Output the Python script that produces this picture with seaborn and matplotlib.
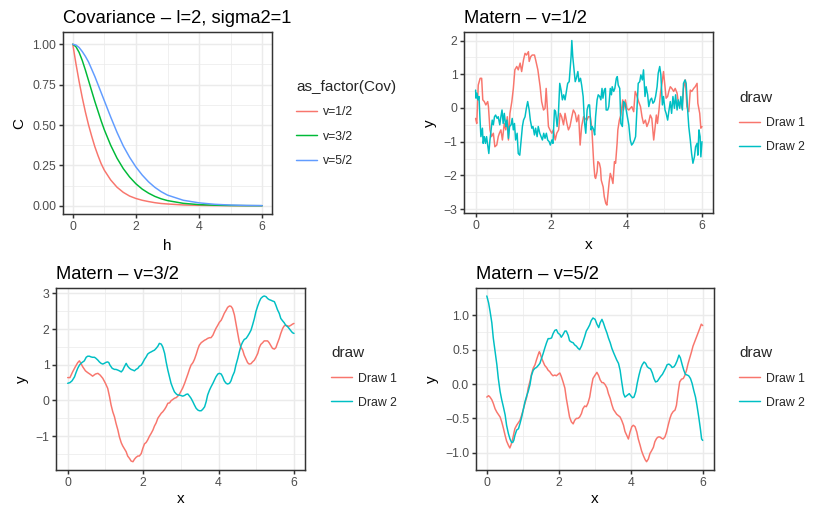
import matplotlib
matplotlib.use("Agg")
import matplotlib.pyplot as plt
import pandas as pd
import seaborn as sns

# ---- Covariance functions (l=2, sigma2=1) ----
cov_h = [0, 0.1, 0.2, 0.3, 0.4, 0.5, 0.6, 0.7, 0.8, 0.9, 1.0, 1.2, 1.4, 1.6, 1.8,
         2.0, 2.2, 2.4, 2.6, 2.8, 3.0, 3.5, 4.0, 4.5, 5.0, 5.5, 6.0]
cov_v12 = [1.0, 0.88, 0.77, 0.67, 0.58, 0.50, 0.43, 0.365, 0.31, 0.26, 0.22, 0.16, 0.115,
           0.083, 0.06, 0.045, 0.034, 0.026, 0.019, 0.014, 0.011, 0.005, 0.0025, 0.0012,
           0.0006, 0.0003, 0.0001]
cov_v32 = [1.0, 0.985, 0.95, 0.90, 0.84, 0.775, 0.71, 0.645, 0.585, 0.525, 0.47, 0.375,
           0.295, 0.23, 0.178, 0.136, 0.103, 0.078, 0.058, 0.043, 0.032, 0.015, 0.007,
           0.0033, 0.0015, 0.0007, 0.0003]
cov_v52 = [1.0, 0.995, 0.98, 0.955, 0.925, 0.89, 0.845, 0.80, 0.75, 0.70, 0.65, 0.55,
           0.455, 0.37, 0.30, 0.24, 0.19, 0.148, 0.114, 0.087, 0.066, 0.034, 0.018, 0.009,
           0.0045, 0.002, 0.001]
cov_labels = ["v=1/2", "v=3/2", "v=5/2"]

draw_labels = ["Draw 1", "Draw 2"]

# ---- Matern v=1/2 draws: (x, y) ----
m12_draw1 = [(0.00, -0.31), (0.03, -0.46), (0.07, 0.68), (0.12, 0.88), (0.16, 0.88), (0.19, 0.24),
             (0.23, 0.19), (0.27, 0.09), (0.32, 0.19), (0.34, 0.04), (0.38, -0.65), (0.42, -0.85),
             (0.47, -0.75), (0.51, -1.15), (0.56, -1.10), (0.60, -0.85), (0.63, -0.75), (0.67, -0.65),
             (0.71, -0.95), (0.76, -0.46), (0.80, -0.65), (0.84, -0.26), (0.87, -0.95), (0.91, -0.16),
             (0.96, 0.19), (1.00, 0.58), (1.04, 1.13), (1.09, 1.23), (1.13, 1.13), (1.18, 1.33),
             (1.22, 1.08), (1.27, 1.43), (1.31, 1.62), (1.35, 1.57), (1.40, 1.67), (1.42, 1.38),
             (1.46, 1.52), (1.50, 1.57), (1.56, 1.57), (1.59, 1.43), (1.65, 1.13), (1.71, 0.63),
             (1.75, 0.19), (1.80, -0.06), (1.84, -0.01), (1.87, 0.58), (1.90, 0.04), (1.93, -0.55),
             (1.97, -0.65), (2.02, -0.75), (2.06, -0.65), (2.11, -0.95), (2.15, -0.75), (2.20, -0.65),
             (2.24, -0.16), (2.28, -0.26), (2.33, -0.50), (2.37, -0.16), (2.42, -0.46), (2.46, -0.65),
             (2.50, -0.55), (2.55, -0.26), (2.59, -0.06), (2.64, -0.16), (2.68, -0.41), (2.73, -0.21),
             (2.77, -1.10), (2.81, -0.55), (2.86, -0.26), (2.90, -0.31), (2.95, -0.36), (2.99, -0.26),
             (3.04, -0.26), (3.08, -0.60), (3.13, -1.64), (3.16, -2.04), (3.18, -2.09), (3.22, -1.89),
             (3.24, -1.59), (3.28, -1.64), (3.31, -1.79), (3.33, -2.14), (3.38, -2.34), (3.41, -2.63),
             (3.45, -2.83), (3.48, -2.88), (3.51, -2.53), (3.54, -2.19), (3.57, -1.94), (3.61, -2.09),
             (3.64, -2.24), (3.68, -1.59), (3.71, -1.64), (3.75, -1.05), (3.77, -0.65), (3.81, -0.36),
             (3.85, -0.21), (3.90, 0.24), (3.92, -0.06), (3.97, 0.24), (4.01, -0.01), (4.06, -0.06),
             (4.10, -0.01), (4.14, 0.04), (4.19, -0.11), (4.23, 0.49), (4.28, 0.34), (4.32, 0.19),
             (4.37, 0.04), (4.41, -0.26), (4.45, -0.46), (4.50, -0.36), (4.54, -0.55), (4.59, -0.41),
             (4.63, -0.21), (4.67, -0.31), (4.72, -0.95), (4.75, -0.65), (4.79, -0.21), (4.82, -0.46),
             (4.86, -0.06), (4.90, 0.44), (4.94, 0.73), (4.98, 1.08), (5.02, 0.63), (5.05, 0.29),
             (5.09, 0.34), (5.12, 0.49), (5.16, 0.63), (5.20, 0.58), (5.25, 0.49), (5.29, 0.58),
             (5.34, 0.44), (5.38, 0.09), (5.43, 0.19), (5.47, -0.01), (5.51, 0.58), (5.56, 0.83),
             (5.60, 0.04), (5.65, -0.11), (5.69, 0.53), (5.73, 0.49), (5.78, 0.58), (5.82, 0.63),
             (5.87, 0.73), (5.89, 0.14), (5.94, -0.16), (5.97, -0.60), (6.00, -0.55)]
m12_draw2 = [(0.00, 0.53), (0.01, 0.29), (0.035, 0.44), (0.06, 0.24), (0.09, 0.34), (0.115, -0.31),
             (0.14, -0.85), (0.18, -0.60), (0.20, -1.05), (0.23, -0.85), (0.26, -1.05), (0.29, -0.85),
             (0.32, -1.10), (0.35, -1.35), (0.38, -0.95), (0.41, -0.65), (0.44, -0.36), (0.47, -0.50),
             (0.50, -0.26), (0.53, -0.21), (0.57, -0.31), (0.60, -0.26), (0.64, -0.50), (0.67, -0.26),
             (0.70, -0.06), (0.73, -0.46), (0.76, -0.16), (0.80, -0.55), (0.83, -0.36), (0.87, -0.90),
             (0.90, -0.55), (0.94, -0.50), (0.97, -0.31), (1.00, -0.65), (1.03, -0.46), (1.06, -0.95),
             (1.10, -0.75), (1.13, -1.35), (1.17, -1.40), (1.20, -1.05), (1.24, -0.55), (1.27, -0.36),
             (1.31, -0.26), (1.345, -0.01), (1.38, 0.19), (1.42, -0.06), (1.45, -0.36), (1.49, -0.60),
             (1.52, -0.55), (1.56, -0.80), (1.59, -0.60), (1.63, -0.85), (1.66, -0.55), (1.70, -0.75),
             (1.735, -0.85), (1.77, -0.95), (1.805, -0.75), (1.84, -0.90), (1.875, -0.75), (1.91, -0.95),
             (1.95, -1.00), (1.98, -1.10), (2.02, -0.95), (2.05, -1.05), (2.09, -0.06), (2.12, -0.11),
             (2.16, -0.55), (2.195, -0.16), (2.23, 0.73), (2.265, 0.53), (2.30, 0.24), (2.335, 0.39),
             (2.37, 0.24), (2.41, 0.53), (2.44, 0.73), (2.48, 0.78), (2.51, 1.23), (2.53, 1.52),
             (2.55, 2.00), (2.575, 1.52), (2.60, 1.23), (2.64, 0.78), (2.67, 0.88), (2.71, 1.08),
             (2.74, 0.78), (2.78, 0.88), (2.81, 0.68), (2.85, 0.34), (2.885, -0.41), (2.92, -0.75),
             (2.955, -0.06), (2.99, 0.09), (3.02, 0.09), (3.06, -0.65), (3.09, -0.55), (3.13, -0.65),
             (3.155, -0.80), (3.18, -0.26), (3.22, 0.24), (3.25, 0.39), (3.29, 0.34), (3.32, 0.24),
             (3.35, 0.58), (3.375, 0.29), (3.41, 0.53), (3.44, 0.58), (3.46, -0.06), (3.50, -0.06),
             (3.53, 0.04), (3.57, 0.58), (3.60, 0.39), (3.62, 0.63), (3.66, 0.49), (3.69, 0.58),
             (3.73, 0.88), (3.755, 0.93), (3.78, 0.68), (3.82, 0.58), (3.85, -0.46), (3.89, -0.55),
             (3.92, 0.19), (3.96, 0.14), (3.99, -0.06), (4.03, -0.31), (4.06, -0.50), (4.10, -0.95),
             (4.135, -1.10), (4.17, -1.05), (4.21, -0.95), (4.24, -0.85), (4.28, 0.04), (4.31, 0.73),
             (4.35, 0.78), (4.38, 0.98), (4.42, 0.83), (4.45, 1.13), (4.49, 0.34), (4.52, 0.63),
             (4.56, 0.39), (4.59, 0.04), (4.63, 0.24), (4.665, 0.29), (4.70, 0.14), (4.735, 0.19),
             (4.77, 0.34), (4.81, 0.63), (4.84, 1.03), (4.88, 1.23), (4.91, 0.98), (4.95, 0.09),
             (4.98, 0.34), (5.02, -0.06), (5.05, -0.16), (5.09, -0.36), (5.12, -0.11), (5.16, 0.19),
             (5.195, -0.16), (5.23, 0.34), (5.27, -0.01), (5.30, 0.39), (5.34, -0.06), (5.37, 0.24),
             (5.41, -0.01), (5.44, 0.34), (5.48, -0.06), (5.51, 0.73), (5.55, 0.83), (5.58, 0.73),
             (5.62, -0.06), (5.65, -0.55), (5.69, -0.95), (5.725, -1.35), (5.76, -1.64), (5.80, -1.45),
             (5.83, -1.15), (5.87, -1.05), (5.89, -1.40), (5.92, -0.65), (5.95, -0.85), (5.97, -1.45),
             (6.00, -1.00)]

# ---- Matern v=3/2 draws: (x, y) ----
m32_draw1 = [(0.00, 0.64), (0.06, 0.64), (0.13, 0.80), (0.20, 0.94), (0.265, 1.06), (0.31, 1.11),
             (0.35, 1.04), (0.40, 0.94), (0.47, 0.83), (0.53, 0.78), (0.60, 0.73), (0.66, 0.68),
             (0.735, 0.74), (0.80, 0.76), (0.86, 0.71), (0.93, 0.62), (1.00, 0.48), (1.06, 0.34),
             (1.11, 0.10), (1.15, -0.13), (1.195, -0.32), (1.24, -0.46), (1.28, -0.64), (1.33, -0.83),
             (1.37, -1.02), (1.42, -1.19), (1.46, -1.28), (1.50, -1.35), (1.55, -1.44), (1.59, -1.56),
             (1.64, -1.63), (1.68, -1.70), (1.73, -1.72), (1.77, -1.65), (1.81, -1.60), (1.86, -1.56),
             (1.90, -1.56), (1.95, -1.49), (1.99, -1.35), (2.035, -1.22), (2.08, -1.18), (2.12, -1.11),
             (2.17, -1.00), (2.21, -0.93), (2.26, -0.83), (2.30, -0.72), (2.345, -0.63), (2.39, -0.50),
             (2.43, -0.44), (2.48, -0.36), (2.52, -0.32), (2.57, -0.25), (2.61, -0.18), (2.655, -0.08),
             (2.70, -0.07), (2.74, -0.01), (2.79, 0.03), (2.83, 0.06), (2.88, 0.08), (2.92, 0.12),
             (2.965, 0.18), (3.05, 0.35), (3.10, 0.48), (3.14, 0.60), (3.19, 0.75), (3.23, 0.88),
             (3.27, 0.99), (3.32, 1.06), (3.36, 1.15), (3.41, 1.30), (3.45, 1.44), (3.49, 1.55),
             (3.54, 1.62), (3.58, 1.65), (3.63, 1.69), (3.67, 1.71), (3.71, 1.74), (3.76, 1.76),
             (3.80, 1.76), (3.85, 1.83), (3.89, 1.93), (3.93, 2.02), (3.98, 2.11), (4.02, 2.19),
             (4.07, 2.25), (4.11, 2.34), (4.15, 2.44), (4.20, 2.53), (4.24, 2.61), (4.29, 2.65),
             (4.33, 2.64), (4.37, 2.58), (4.42, 2.40), (4.46, 2.16), (4.51, 1.87), (4.55, 1.64),
             (4.59, 1.50), (4.64, 1.41), (4.68, 1.27), (4.73, 1.15), (4.77, 1.06), (4.81, 1.02),
             (4.86, 1.03), (4.90, 1.08), (4.95, 1.13), (4.99, 1.21), (5.04, 1.32), (5.08, 1.48),
             (5.12, 1.57), (5.17, 1.62), (5.21, 1.67), (5.26, 1.67), (5.30, 1.67), (5.34, 1.62),
             (5.39, 1.53), (5.43, 1.46), (5.48, 1.44), (5.52, 1.48), (5.56, 1.60), (5.61, 1.74),
             (5.65, 1.88), (5.70, 2.02), (5.74, 2.09), (5.78, 2.11), (5.83, 2.09), (5.87, 2.08),
             (5.92, 2.11), (5.96, 2.14), (6.00, 2.16)]
m32_draw2 = [(0.00, 0.48), (0.06, 0.50), (0.115, 0.55), (0.18, 0.66), (0.22, 0.78), (0.265, 0.90),
             (0.31, 0.99), (0.35, 1.04), (0.40, 1.08), (0.44, 1.11), (0.49, 1.21), (0.53, 1.24),
             (0.575, 1.24), (0.62, 1.22), (0.66, 1.21), (0.71, 1.21), (0.75, 1.18), (0.80, 1.13),
             (0.84, 1.08), (0.885, 1.04), (0.93, 1.02), (0.97, 1.04), (1.02, 1.07), (1.06, 1.08),
             (1.09, 1.06), (1.12, 0.99), (1.18, 0.90), (1.24, 0.87), (1.28, 0.87), (1.33, 0.85),
             (1.37, 0.83), (1.42, 0.80), (1.46, 0.85), (1.50, 0.94), (1.55, 1.04), (1.59, 0.96),
             (1.64, 0.90), (1.68, 0.87), (1.73, 0.85), (1.77, 0.83), (1.81, 0.87), (1.86, 0.90),
             (1.90, 0.96), (1.95, 0.99), (1.99, 1.06), (2.035, 1.15), (2.08, 1.22), (2.12, 1.30),
             (2.17, 1.34), (2.21, 1.36), (2.26, 1.39), (2.30, 1.41), (2.345, 1.46), (2.39, 1.52),
             (2.43, 1.60), (2.48, 1.58), (2.52, 1.50), (2.57, 1.32), (2.61, 1.08), (2.655, 0.85),
             (2.70, 0.66), (2.74, 0.48), (2.79, 0.34), (2.83, 0.24), (2.88, 0.18), (2.92, 0.15),
             (2.965, 0.15), (3.05, 0.12), (3.10, 0.14), (3.14, 0.17), (3.185, 0.18), (3.23, 0.12),
             (3.27, 0.06), (3.32, -0.04), (3.36, -0.13), (3.405, -0.22), (3.45, -0.27), (3.49, -0.29),
             (3.54, -0.29), (3.58, -0.25), (3.63, -0.18), (3.67, -0.04), (3.71, 0.15), (3.76, 0.29),
             (3.80, 0.38), (3.85, 0.48), (3.89, 0.57), (3.93, 0.66), (3.98, 0.74), (4.02, 0.76),
             (4.07, 0.74), (4.11, 0.66), (4.15, 0.55), (4.20, 0.48), (4.24, 0.46), (4.29, 0.48),
             (4.33, 0.55), (4.37, 0.68), (4.42, 0.80), (4.46, 0.99), (4.51, 1.18), (4.55, 1.36),
             (4.60, 1.55), (4.64, 1.64), (4.68, 1.71), (4.73, 1.74), (4.77, 1.80), (4.815, 1.88),
             (4.86, 1.97), (4.90, 2.11), (4.95, 2.30), (4.99, 2.49), (5.035, 2.64), (5.08, 2.77),
             (5.12, 2.86), (5.17, 2.91), (5.21, 2.93), (5.26, 2.91), (5.30, 2.86), (5.34, 2.83),
             (5.39, 2.81), (5.43, 2.79), (5.48, 2.77), (5.52, 2.67), (5.56, 2.55), (5.61, 2.44),
             (5.65, 2.30), (5.70, 2.23), (5.74, 2.18), (5.78, 2.11), (5.83, 2.07), (5.87, 2.02),
             (5.92, 1.95), (5.96, 1.90), (6.00, 1.88)]

# ---- Matern v=5/2 draws: (x, y) ----
m52_draw1 = [(0.00, -0.19), (0.05, -0.17), (0.09, -0.19), (0.14, -0.23), (0.18, -0.28), (0.23, -0.36),
             (0.28, -0.41), (0.32, -0.44), (0.37, -0.48), (0.415, -0.55), (0.46, -0.64), (0.51, -0.75),
             (0.55, -0.83), (0.60, -0.89), (0.64, -0.93), (0.67, -0.89), (0.71, -0.82), (0.75, -0.72),
             (0.78, -0.65), (0.83, -0.60), (0.88, -0.56), (0.92, -0.53), (0.97, -0.45), (1.01, -0.38),
             (1.06, -0.28), (1.11, -0.19), (1.15, -0.06), (1.20, 0.04), (1.24, 0.14), (1.29, 0.23),
             (1.34, 0.28), (1.38, 0.35), (1.43, 0.43), (1.46, 0.47), (1.48, 0.45), (1.52, 0.38),
             (1.57, 0.32), (1.61, 0.27), (1.66, 0.24), (1.705, 0.20), (1.75, 0.18), (1.80, 0.14),
             (1.84, 0.12), (1.89, 0.13), (1.935, 0.12), (1.98, 0.14), (2.03, 0.16), (2.07, 0.11),
             (2.12, 0.03), (2.17, -0.06), (2.21, -0.21), (2.26, -0.36), (2.30, -0.48), (2.35, -0.55),
             (2.40, -0.58), (2.44, -0.53), (2.49, -0.50), (2.535, -0.50), (2.58, -0.48), (2.63, -0.43),
             (2.67, -0.36), (2.72, -0.32), (2.765, -0.33), (2.81, -0.28), (2.86, -0.19), (2.90, -0.06),
             (2.95, 0.08), (3.01, 0.13), (3.06, 0.17), (3.11, 0.12), (3.15, 0.06), (3.20, 0.02),
             (3.24, 0.02), (3.29, -0.01), (3.34, -0.06), (3.38, -0.14), (3.43, -0.21), (3.475, -0.30),
             (3.52, -0.37), (3.57, -0.41), (3.61, -0.44), (3.66, -0.46), (3.705, -0.48), (3.75, -0.53),
             (3.80, -0.60), (3.84, -0.69), (3.89, -0.75), (3.935, -0.80), (3.98, -0.70), (4.03, -0.62),
             (4.07, -0.60), (4.12, -0.62), (4.17, -0.70), (4.21, -0.80), (4.26, -0.89), (4.30, -0.97),
             (4.35, -1.04), (4.40, -1.10), (4.44, -1.13), (4.49, -1.09), (4.535, -1.01), (4.58, -0.97),
             (4.63, -0.92), (4.67, -0.84), (4.72, -0.79), (4.765, -0.77), (4.81, -0.77), (4.86, -0.79),
             (4.90, -0.80), (4.95, -0.77), (4.995, -0.70), (5.04, -0.60), (5.09, -0.50), (5.13, -0.44),
             (5.18, -0.40), (5.23, -0.38), (5.27, -0.31), (5.32, -0.11), (5.36, 0.03), (5.41, 0.07),
             (5.46, 0.08), (5.50, 0.12), (5.55, 0.20), (5.59, 0.29), (5.64, 0.38), (5.69, 0.47),
             (5.73, 0.55), (5.78, 0.62), (5.825, 0.68), (5.87, 0.74), (5.92, 0.81), (5.96, 0.87),
             (6.00, 0.85)]
m52_draw2 = [(0.00, 1.28), (0.05, 1.18), (0.09, 1.06), (0.14, 0.89), (0.18, 0.67), (0.23, 0.47),
             (0.28, 0.28), (0.32, 0.08), (0.37, -0.11), (0.415, -0.23), (0.46, -0.33), (0.51, -0.45),
             (0.55, -0.60), (0.60, -0.72), (0.645, -0.80), (0.69, -0.85), (0.72, -0.85), (0.75, -0.82),
             (0.78, -0.75), (0.83, -0.67), (0.88, -0.65), (0.92, -0.58), (0.97, -0.48), (1.01, -0.38),
             (1.06, -0.26), (1.11, -0.17), (1.15, -0.11), (1.20, -0.01), (1.24, 0.12), (1.29, 0.20),
             (1.34, 0.23), (1.38, 0.24), (1.43, 0.27), (1.475, 0.30), (1.52, 0.37), (1.57, 0.45),
             (1.61, 0.52), (1.66, 0.60), (1.705, 0.66), (1.75, 0.66), (1.80, 0.67), (1.84, 0.73),
             (1.89, 0.78), (1.935, 0.79), (1.98, 0.74), (2.03, 0.72), (2.07, 0.68), (2.12, 0.72),
             (2.17, 0.77), (2.21, 0.77), (2.26, 0.71), (2.30, 0.63), (2.35, 0.61), (2.40, 0.60),
             (2.44, 0.57), (2.49, 0.55), (2.535, 0.52), (2.58, 0.50), (2.63, 0.55), (2.67, 0.61),
             (2.72, 0.69), (2.765, 0.77), (2.81, 0.81), (2.86, 0.86), (2.90, 0.92), (2.95, 0.96),
             (3.01, 0.94), (3.06, 0.87), (3.11, 0.82), (3.15, 0.89), (3.20, 0.94), (3.24, 0.89),
             (3.29, 0.81), (3.34, 0.74), (3.38, 0.67), (3.43, 0.60), (3.475, 0.52), (3.52, 0.46),
             (3.57, 0.40), (3.61, 0.35), (3.66, 0.30), (3.705, 0.20), (3.75, 0.03), (3.80, -0.14),
             (3.84, -0.19), (3.89, -0.17), (3.935, -0.15), (3.96, -0.14), (4.00, -0.17), (4.05, -0.20),
             (4.09, -0.19), (4.14, -0.11), (4.18, 0.01), (4.23, 0.13), (4.28, 0.23), (4.32, 0.28),
             (4.37, 0.32), (4.415, 0.30), (4.46, 0.25), (4.51, 0.23), (4.55, 0.22), (4.60, 0.16),
             (4.645, 0.08), (4.69, 0.03), (4.74, 0.04), (4.78, 0.07), (4.83, 0.11), (4.88, 0.14),
             (4.92, 0.18), (4.97, 0.23), (5.01, 0.28), (5.06, 0.29), (5.11, 0.27), (5.15, 0.24),
             (5.20, 0.25), (5.24, 0.28), (5.29, 0.34), (5.34, 0.42), (5.38, 0.38), (5.43, 0.28),
             (5.475, 0.20), (5.52, 0.14), (5.57, 0.13), (5.61, 0.12), (5.66, 0.08), (5.705, 0.01),
             (5.75, -0.09), (5.80, -0.19), (5.84, -0.31), (5.89, -0.48), (5.935, -0.65), (5.97, -0.80),
             (6.00, -0.82)]

# ---- styling (ggplot2 theme_bw look) ----
sns.set_theme(style="white")
plt.rcParams["font.family"] = ["Liberation Sans", "DejaVu Sans"]
plt.rcParams["axes.unicode_minus"] = True

RED, GREEN, BLUE, CYAN = "#F8766D", "#00BA38", "#619CFF", "#00BFC4"
LW = 1.07
W, H = 818, 507

fig = plt.figure(figsize=(W / 100, H / 100), dpi=100)
fig.patch.set_facecolor("white")


def panel(left, top, right, bottom):
    return fig.add_axes([left / W, 1 - bottom / H, (right - left) / W, (bottom - top) / H])


def draws_frame(d1, d2):
    rows = [(x, y, draw_labels[0]) for x, y in d1] + [(x, y, draw_labels[1]) for x, y in d2]
    return pd.DataFrame(rows, columns=["x", "y", "draw"])


def style(ax, xmaj, xmin, ymaj, ymin, ylabels, title, xlabel, ylabel, xpad=4.2):
    ax.set_facecolor("white")
    ax.set_xticks(xmaj)
    ax.set_xticks(xmin, minor=True)
    ax.set_yticks(ymaj)
    ax.set_yticks(ymin, minor=True)
    ax.set_xticklabels([str(v) for v in xmaj])
    ax.set_yticklabels(ylabels)
    ax.grid(True, which="major", color="#EBEBEB", linewidth=LW)
    ax.grid(True, which="minor", color="#EBEBEB", linewidth=LW / 2)
    ax.set_axisbelow(True)
    for s in ax.spines.values():
        s.set_visible(True)
        s.set_color("#333333")
        s.set_linewidth(LW)
    ax.tick_params(which="major", length=2.75, width=LW, color="#333333",
                   labelcolor="#4D4D4D", labelsize=8.8, pad=2.2,
                   bottom=True, left=True, top=False, right=False)
    ax.tick_params(which="minor", length=0)
    ax.set_title(title, loc="left", fontsize=13.2, color="black", pad=6.5)
    ax.set_xlabel(xlabel, fontsize=11, color="black", labelpad=xpad)
    ax.set_ylabel(ylabel, fontsize=11, color="black", labelpad=4.5)


def place_legend(ax, title, x_px, y_px):
    handles, labels = ax.get_legend_handles_labels()
    if ax.get_legend() is not None:
        ax.get_legend().remove()
    for h in handles:
        h.set_linewidth(LW)
    fig.legend(handles, labels, title=title, loc="center left",
               bbox_to_anchor=(x_px / W, 1 - y_px / H), bbox_transform=fig.transFigure,
               frameon=False, alignment="left", borderpad=0, borderaxespad=0,
               handlelength=1.75, handletextpad=0.45, labelspacing=1.0,
               fontsize=8.8, title_fontsize=11)


# Panel 1: covariance functions
ax1 = panel(63.3, 32.3, 271.7, 214)
cov_df = pd.DataFrame({
    "h": cov_h * 3,
    "C": cov_v12 + cov_v32 + cov_v52,
    "Cov": [cov_labels[0]] * len(cov_h) + [cov_labels[1]] * len(cov_h) + [cov_labels[2]] * len(cov_h),
})
sns.lineplot(data=cov_df, x="h", y="C", hue="Cov", palette=[RED, GREEN, BLUE],
             estimator=None, sort=False, linewidth=LW, ax=ax1)
style(ax1, [0, 2, 4, 6], [1, 3, 5], [0, 0.25, 0.5, 0.75, 1.0], [0.125, 0.375, 0.625, 0.875],
      ["0.00", "0.25", "0.50", "0.75", "1.00"], "Covariance \u2013 l=2, sigma2=1", "h", "C")
place_legend(ax1, "as_factor(Cov)", 296, 123.5)

# Panel 2: Matern v=1/2
ax2 = panel(464.3, 32.3, 713.3, 213.3)
sns.lineplot(data=draws_frame(m12_draw1, m12_draw2), x="x", y="y", hue="draw",
             palette=[RED, CYAN], estimator=None, sort=False, linewidth=LW, ax=ax2)
style(ax2, [0, 2, 4, 6], [1, 3, 5], [-3, -2, -1, 0, 1, 2], [-2.5, -1.5, -0.5, 0.5, 1.5],
      ["\u22123", "\u22122", "\u22121", "0", "1", "2"], "Matern \u2013 v=1/2", "x", "y")
place_legend(ax2, "draw", 739, 122)

# Panel 3: Matern v=3/2
ax3 = panel(56.4, 287.7, 305.3, 470)
sns.lineplot(data=draws_frame(m32_draw1, m32_draw2), x="x", y="y", hue="draw",
             palette=[RED, CYAN], estimator=None, sort=False, linewidth=LW, ax=ax3)
style(ax3, [0, 2, 4, 6], [1, 3, 5], [-1, 0, 1, 2, 3], [-1.5, -0.5, 0.5, 1.5, 2.5],
      ["\u22121", "0", "1", "2", "3"], "Matern \u2013 v=3/2", "x", "y", xpad=2.0)
place_legend(ax3, "draw", 331, 377.5)

# Panel 4: Matern v=5/2
ax4 = panel(476, 287.7, 713.5, 470)
sns.lineplot(data=draws_frame(m52_draw1, m52_draw2), x="x", y="y", hue="draw",
             palette=[RED, CYAN], estimator=None, sort=False, linewidth=LW, ax=ax4)
style(ax4, [0, 2, 4, 6], [1, 3, 5], [-1.0, -0.5, 0.0, 0.5, 1.0],
      [-1.25, -0.75, -0.25, 0.25, 0.75, 1.25],
      ["\u22121.0", "\u22120.5", "0.0", "0.5", "1.0"], "Matern \u2013 v=5/2", "x", "y", xpad=2.0)
place_legend(ax4, "draw", 739, 377.5)

# ggplot-style 5% expansion around the data
for ax in (ax2, ax3, ax4):
    ax.margins(x=0.05, y=0.05)
    ax.autoscale()
ax1.margins(x=0.05)
ax1.autoscale(axis="x")
ax1.set_ylim(-0.051, 1.074)

fig.savefig("out.png", dpi=100, facecolor="white")
